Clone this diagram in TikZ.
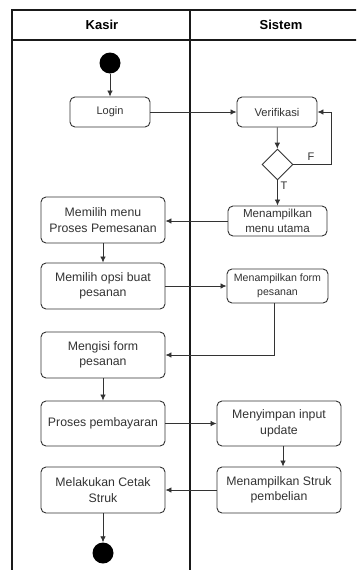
\documentclass[tikz,border=0pt]{standalone}
\usepackage{fontspec}
\setmainfont{Liberation Sans}
\usetikzlibrary{arrows.meta,shapes.geometric}
\definecolor{ink}{HTML}{333333}
\definecolor{lane}{HTML}{1A1A1A}
\begin{document}
\begin{tikzpicture}[x=1pt,y=-1pt,
  lanerule/.style={draw=lane,line width=1.6pt},
  actbox/.style={draw=ink,line width=0.9pt,rounded corners=5pt,fill=white,
    text=ink,align=center,inner sep=1pt,font=\fontsize{12.3}{15.5}\selectfont},
  startdot/.style={circle,fill=black,inner sep=0pt,minimum size=21pt},
  choice/.style={diamond,draw=ink,line width=0.9pt,fill=white,inner sep=0pt,
    minimum width=31pt,minimum height=31pt},
  flow/.style={draw=ink,line width=0.8pt,-{Latex[length=6pt,width=5.5pt]}},
  lanehead/.style={font=\bfseries\fontsize{13}{15}\selectfont,text=black},
  guard/.style={font=\fontsize{11}{13}\selectfont,text=ink}]
\useasboundingbox (0,0) rectangle (356,570);
\fill[white] (0,0) rectangle (356,570);

% swimlane frame
\begin{scope}
\clip (0,0) rectangle (356,570);
\draw[lanerule] (12,580) -- (12,10) -- (370,10);
\draw[lanerule] (12,40) -- (370,40);
\draw[lanerule] (190,10) -- (190,580);
\end{scope}
\node[lanehead] (hkasir) at (102,25) {Kasir};
\node[lanehead] (hsistem) at (281,25) {Sistem};

% activities
\node[startdot] (start) at (110,63) {};
\node[actbox,minimum width=80pt,minimum height=30pt,font=\fontsize{11}{13}\selectfont] (login) at (110,112) {Login};
\node[actbox,minimum width=80pt,minimum height=30pt,font=\fontsize{11.2}{13}\selectfont] (verif) at (277,112) {Verifikasi};
\node[choice] (dec) at (277.5,164.5) {};
\node[actbox,minimum width=99pt,minimum height=30pt,font=\fontsize{11.6}{14.5}\selectfont] (mutama) at (277.5,221) {Menampilkan\\menu utama};
\node[actbox,minimum width=124pt,minimum height=46pt] (pilihmenu) at (103,220) {Memilih menu\\Proses Pemesanan};
\node[actbox,minimum width=124pt,minimum height=46pt] (opsi) at (103,286) {Memilih opsi buat\\pesanan};
\node[actbox,minimum width=101pt,minimum height=34pt,font=\fontsize{10.6}{14}\selectfont] (formsis) at (277.5,286) {Menampilkan form\\pesanan};
\node[actbox,minimum width=124pt,minimum height=46pt] (mengisi) at (103,355) {Mengisi form\\pesanan};
\node[actbox,minimum width=124pt,minimum height=45pt] (bayar) at (103,423.5) {Proses pembayaran};
\node[actbox,minimum width=124pt,minimum height=45pt] (simpan) at (279,423.5) {Menyimpan input\\update};
\node[actbox,minimum width=124pt,minimum height=46pt] (struksis) at (279,490) {Menampilkan Struk\\pembelian};
\node[actbox,minimum width=124pt,minimum height=46pt] (cetak) at (103,490) {Melakukan Cetak\\Struk};
\node[startdot] (finish) at (103,553) {};
\coordinate (floop) at (331,164.5);

% control flow
\draw[flow] (start) -- (login);
\draw[flow] (login) -- (verif);
\draw[flow] (verif) -- (dec);
\draw[flow] (dec.east) -- (floop) |- (verif.east);
\node[guard] (lblF) at (311,157) {F};
\draw[flow] (dec.south) -- (mutama.north);
\node[guard] (lblT) at (284,186) {T};
\draw[flow] (mutama.west) -- (mutama.west -| pilihmenu.east);
\draw[flow] (pilihmenu) -- (opsi);
\draw[flow] (opsi.east) -- (formsis.west);
\draw[flow] ([xshift=-3pt]formsis.south) |- (mengisi.east);
\draw[flow] (mengisi) -- (bayar);
\draw[flow] (bayar.east) -- (simpan.west);
\draw[flow] ([xshift=4pt]simpan.south) -- ([xshift=4pt]struksis.north);
\draw[flow] (struksis.west) -- (cetak.east);
\draw[flow] (cetak) -- (finish);
\end{tikzpicture}
\end{document}
